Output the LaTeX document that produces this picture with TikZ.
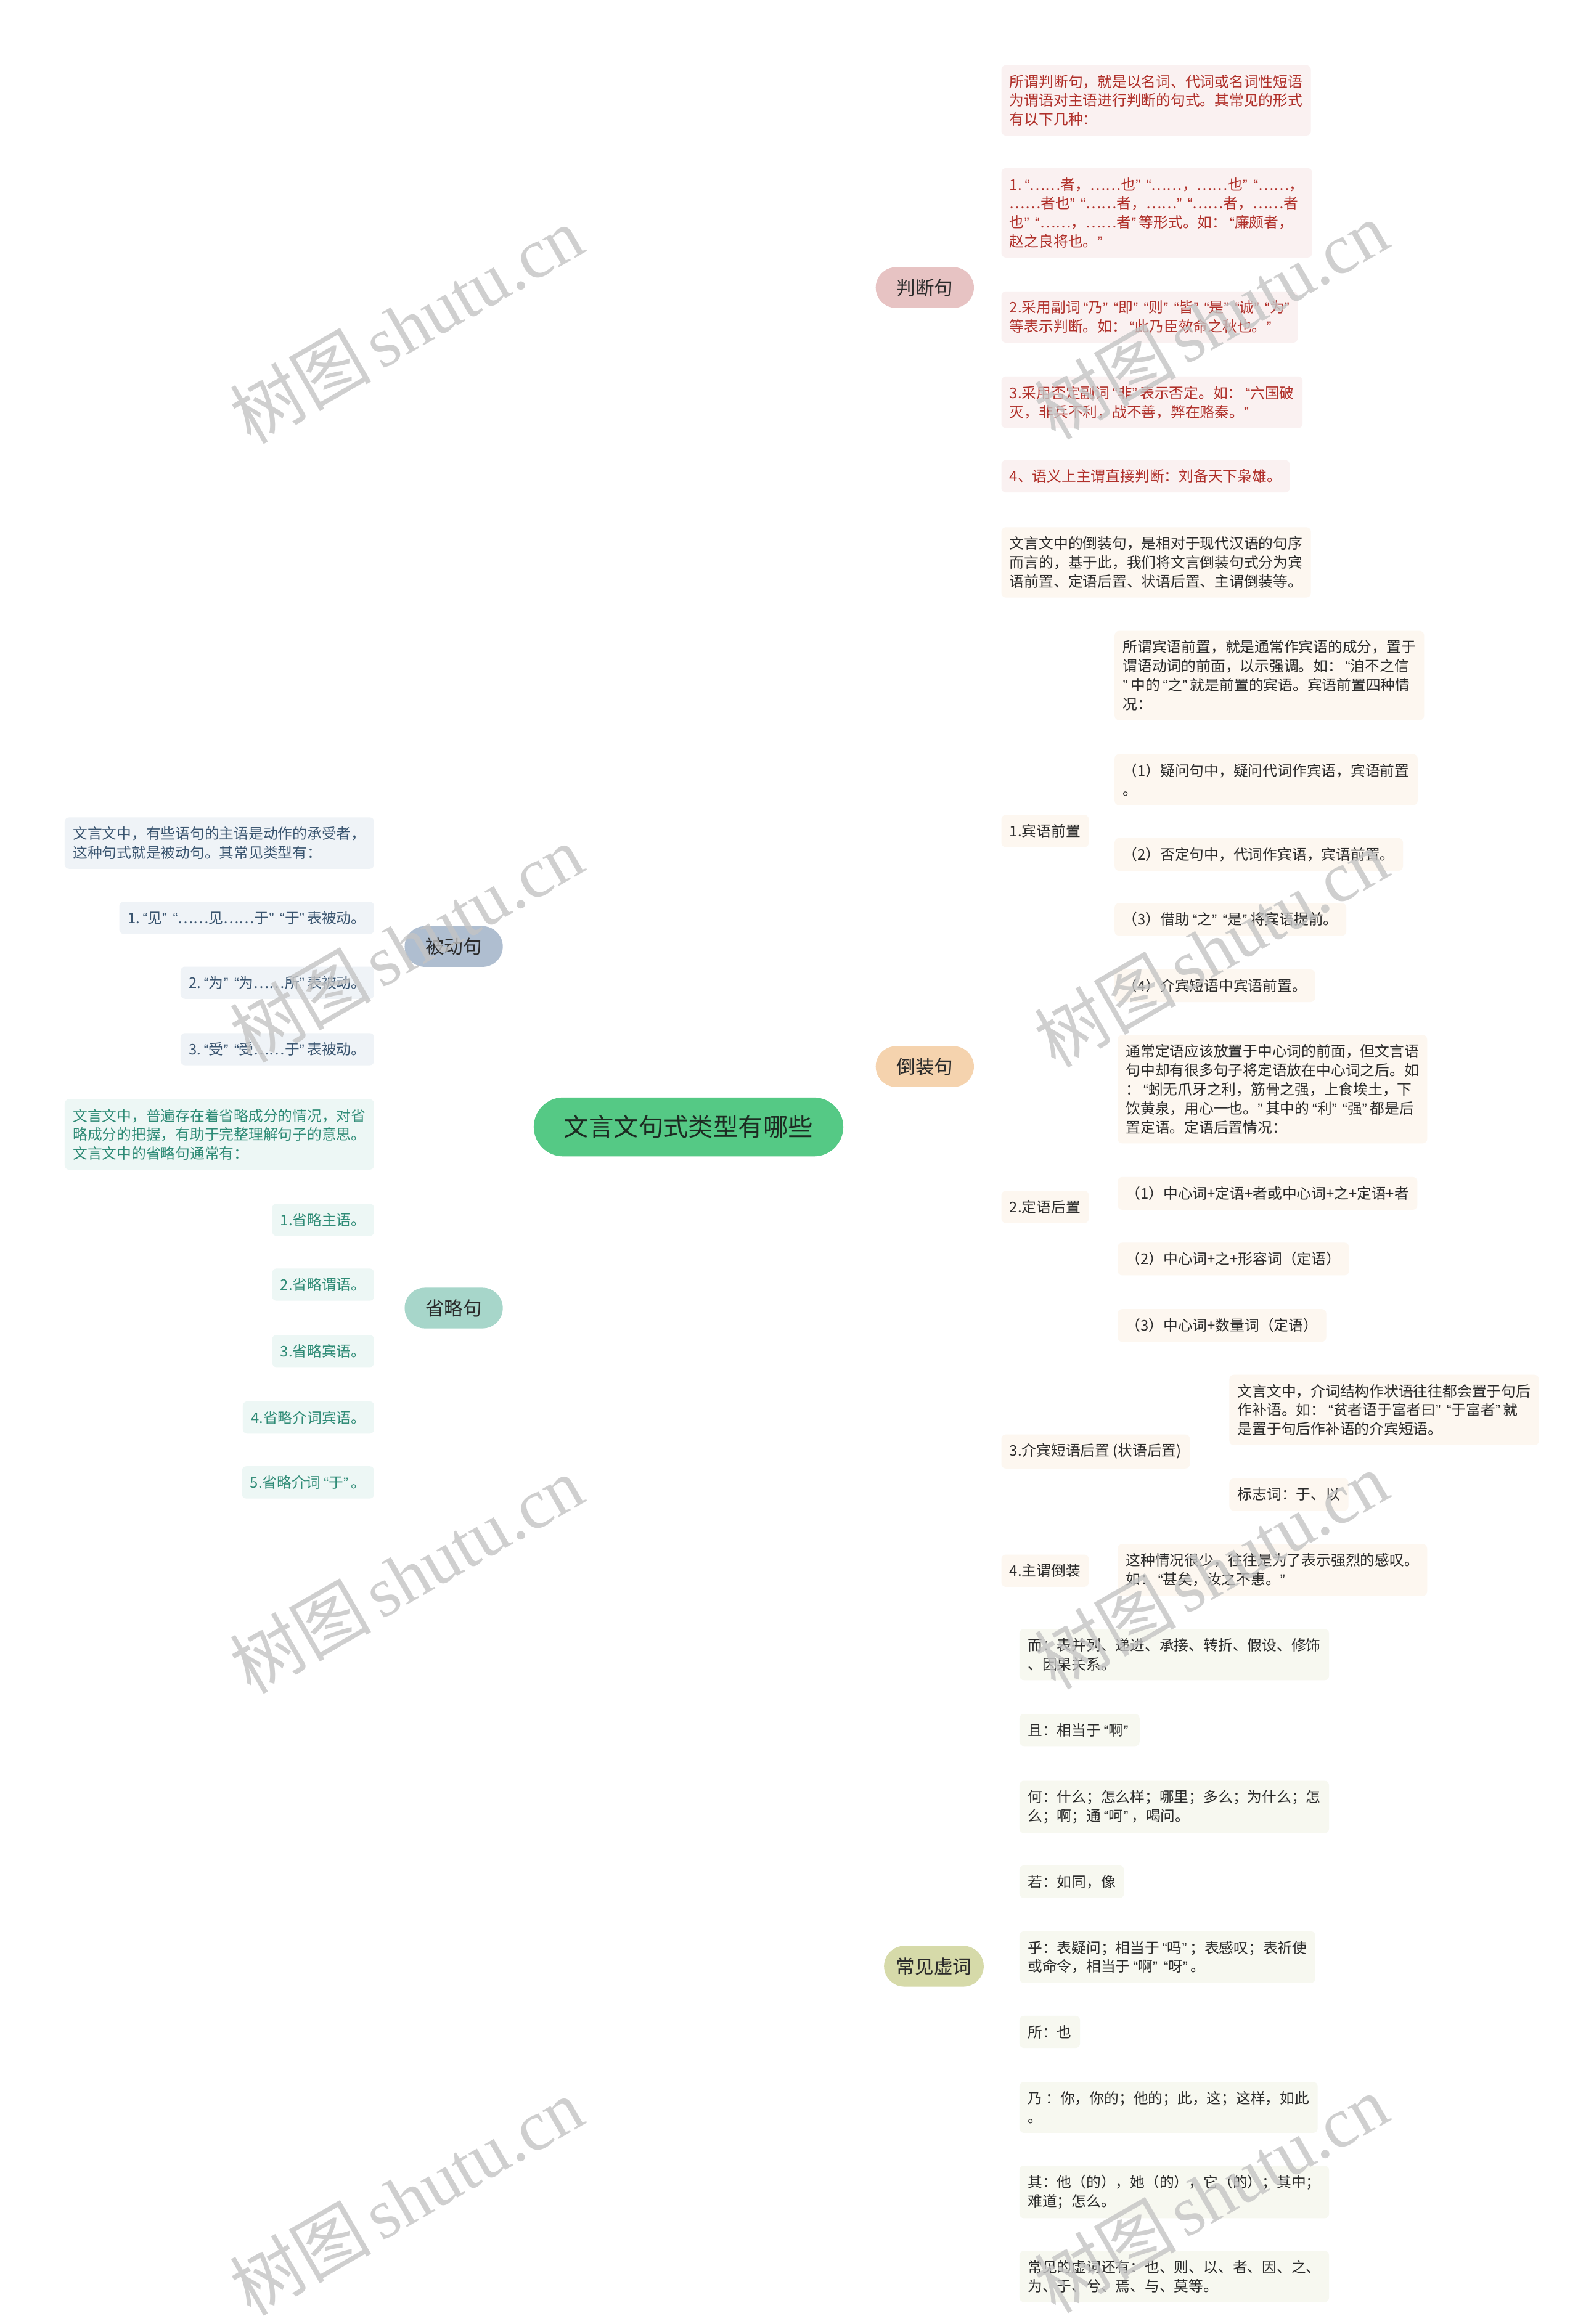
\documentclass[tikz,border=0pt]{standalone}
\usepackage{fontspec}
\usepackage{newunicodechar}
\setmainfont{Noto Sans CJK SC}
\newfontfamily\wmlat{Liberation Serif}
\newfontfamily\wmcjk{Noto Sans CJK SC}
\newfontfamily\qfont{Liberation Sans}
\newunicodechar{“}{{\hspace{0.2em}\qfont\char"201C}}
\newunicodechar{”}{{\qfont\char"201D\hspace{0.2em}}}
\usetikzlibrary{backgrounds}
\definecolor{rootfill}{HTML}{55C985}
\definecolor{roottext}{HTML}{1D2B22}
\definecolor{pjfill}{HTML}{E7C3C3}\definecolor{pjleaf}{HTML}{FAF1F1}\definecolor{pjtext}{HTML}{B0302A}\definecolor{pjline}{HTML}{E3BDBD}
\definecolor{dzfill}{HTML}{F5D3AE}\definecolor{dzleaf}{HTML}{FDF7F0}\definecolor{dzline}{HTML}{F2D2AC}
\definecolor{xcfill}{HTML}{D6DAA9}\definecolor{xcleaf}{HTML}{F7F8F0}\definecolor{xcline}{HTML}{D5DAAB}
\definecolor{bdfill}{HTML}{AFBED0}\definecolor{bdleaf}{HTML}{EFF3F7}\definecolor{bdtext}{HTML}{3A5570}\definecolor{bdline}{HTML}{AAB7C8}
\definecolor{slfill}{HTML}{A7D6CA}\definecolor{slleaf}{HTML}{EDF7F5}\definecolor{sltext}{HTML}{2E8B76}\definecolor{slline}{HTML}{A2D3C6}
\definecolor{darktext}{HTML}{2B2B2B}
\definecolor{wmgray}{HTML}{C4C4C4}
\tikzset{
  leafbox/.style={rounded corners=3pt, inner xsep=5.5pt, inner ysep=6.2pt, align=left,
    font=\fontsize{9.7}{12.6}\selectfont},
  pjbox/.style={leafbox, fill=pjleaf, text=pjtext, anchor=west},
  dzbox/.style={leafbox, fill=dzleaf, text=darktext, anchor=west},
  xcbox/.style={leafbox, fill=xcleaf, text=darktext, anchor=west},
  bdbox/.style={leafbox, fill=bdleaf, text=bdtext, anchor=east},
  slbox/.style={leafbox, fill=slleaf, text=sltext, anchor=east},
  branchnode/.style={rounded corners=13.5pt, minimum height=27pt, minimum width=65pt,
    inner xsep=8pt, inner ysep=0pt, font=\fontsize{12.5}{14}\selectfont, text=darktext},
  rootnode/.style={rounded corners=19.5pt, minimum height=39pt, minimum width=205pt,
    inner sep=0pt, fill=rootfill, text=roottext, font=\fontsize{16.5}{18}\selectfont},
  cr/.style={to path={-- ++(#1,0) coordinate (tmpc) .. controls (tmpc |- \tikztotarget) .. (\tikztotarget)}},
  cr/.default=7,
  cl/.style={to path={-- ++(-#1,0) coordinate (tmpc) .. controls (tmpc |- \tikztotarget) .. (\tikztotarget)}},
  cl/.default=7,
  mainline/.style={line width=1.5pt},
  subline/.style={line width=1pt},
  wmark/.style={rotate=30, text=wmgray, text opacity=0.8, inner sep=0pt}
}
\begin{document}
\begin{tikzpicture}[x=1pt,y=-1pt]
\useasboundingbox[fill=white] (0,0) rectangle (1045.1,1539.5);

% root and branches
\node[rootnode] (root) at (456,746.5) {文言文句式类型有哪些};
\node[branchnode, fill=pjfill] (pj) at (612.5,190.5) {判断句};
\node[branchnode, fill=dzfill] (dz) at (612.5,706.5) {倒装句};
\node[branchnode, fill=xcfill] (xc) at (618.5,1302.5) {常见虚词};
\node[branchnode, fill=bdfill] (bd) at (300.5,627) {被动句};
\node[branchnode, fill=slfill] (sl) at (300.5,866.5) {省略句};

% 判断句 leaves
\node[pjbox] (J0) at (663,66.5) {所谓判断句，就是以名词、代词或名词性短语\\为谓语对主语进行判断的句式。其常见的形式\\有以下几种：};
\node[pjbox] (J1) at (663,141) {1.“……者，……也”“……，……也”“……，\\……者也”“……者，……”“……者，……者\\也”“……，……者”等形式。如：“廉颇者，\\赵之良将也。”};
\node[pjbox] (J2) at (663,210) {2.采用副词“乃”“即”“则”“皆”“是”“诚”“为”\\等表示判断。如：“此乃臣效命之秋也。”};
\node[pjbox] (J3) at (663,266.5) {3.采用否定副词“非”表示否定。如：“六国破\\灭，非兵不利，战不善，弊在赂秦。”};
\node[pjbox] (J4) at (663,315.5) {4、语义上主谓直接判断：刘备天下枭雄。};

% 倒装句 leaves
\node[dzbox] (D0) at (663,372.5) {文言文中的倒装句，是相对于现代汉语的句序\\而言的，基于此，我们将文言倒装句式分为宾\\语前置、定语后置、状语后置、主谓倒装等。};
\node[dzbox] (D1) at (663,550.5) {1.宾语前置};
\node[dzbox] (D2) at (663,799.5) {2.定语后置};
\node[dzbox] (D3) at (663,961.5) {3.介宾短语后置 (状语后置)};
\node[dzbox] (D4) at (663,1040.5) {4.主谓倒装};
\node[dzbox] (D1a) at (738,447.5) {所谓宾语前置，就是通常作宾语的成分，置于\\谓语动词的前面，以示强调。如：“洎不之信\\”中的“之”就是前置的宾语。宾语前置四种情\\况：};
\node[dzbox] (D1b) at (738,516.5) {（1）疑问句中，疑问代词作宾语，宾语前置\\。};
\node[dzbox] (D1c) at (738,566) {（2）否定句中，代词作宾语，宾语前置。};
\node[dzbox] (D1d) at (738,609) {（3）借助“之”“是”将宾语提前。};
\node[dzbox] (D1e) at (738,653) {（4）介宾短语中宾语前置。};
\node[dzbox] (D2a) at (740,721.5) {通常定语应该放置于中心词的前面，但文言语\\句中却有很多句子将定语放在中心词之后。如\\：“蚓无爪牙之利，筋骨之强，上食埃土，下\\饮黄泉，用心一也。”其中的“利”“强”都是后\\置定语。定语后置情况：};
\node[dzbox] (D2b) at (740,790.5) {（1）中心词+定语+者或中心词+之+定语+者};
\node[dzbox] (D2c) at (740,834) {（2）中心词+之+形容词（定语）};
\node[dzbox] (D2d) at (740,878) {（3）中心词+数量词（定语）};
\node[dzbox] (D3a) at (814,934) {文言文中，介词结构作状语往往都会置于句后\\作补语。如：“贫者语于富者曰”“于富者”就\\是置于句后作补语的介宾短语。};
\node[dzbox] (D3b) at (814,990) {标志词：于、以};
\node[dzbox] (D4a) at (740,1040) {这种情况很少，往往是为了表示强烈的感叹。\\如：“甚矣，汝之不惠。”};

% 常见虚词 leaves
\node[xcbox] (X0) at (675,1096) {而：表并列、递进、承接、转折、假设、修饰\\、因果关系。};
\node[xcbox] (X1) at (675,1146) {且：相当于“啊”};
\node[xcbox] (X2) at (675,1197) {何：什么；怎么样；哪里；多么；为什么；怎\\么；啊；通“呵”，喝问。};
\node[xcbox] (X3) at (675,1246.5) {若：如同，像};
\node[xcbox] (X4) at (675,1296.5) {乎：表疑问；相当于“吗”；表感叹；表祈使\\或命令，相当于“啊”“呀”。};
\node[xcbox] (X5) at (675,1346) {所：也};
\node[xcbox] (X6) at (675,1396) {乃 ：你，你的；他的；此，这；这样，如此\\。};
\node[xcbox] (X7) at (675,1452) {其：他（的），她（的），它（的）；其中；\\难道；怎么。};
\node[xcbox] (X8) at (675,1508) {常见的虚词还有：也、则、以、者、因、之、\\为、于、兮、焉、与、莫等。};

% 被动句 leaves
\node[bdbox] (B0) at (248,558.5) {文言文中，有些语句的主语是动作的承受者，\\这种句式就是被动句。其常见类型有：};
\node[bdbox] (B1) at (248,608) {1.“见”“……见……于”“于”表被动。};
\node[bdbox] (B2) at (248,651) {2.“为”“为……所”表被动。};
\node[bdbox] (B3) at (248,695) {3.“受”“受……于”表被动。};

% 省略句 leaves
\node[slbox] (S0) at (248,751.5) {文言文中，普遍存在着省略成分的情况，对省\\略成分的把握，有助于完整理解句子的意思。\\文言文中的省略句通常有：};
\node[slbox] (S1) at (248,808) {1.省略主语。};
\node[slbox] (S2) at (248,851) {2.省略谓语。};
\node[slbox] (S3) at (248,895) {3.省略宾语。};
\node[slbox] (S4) at (248,939) {4.省略介词宾语。};
\node[slbox] (S5) at (248,982) {5.省略介词“于”。};

\begin{scope}[on background layer]
  % main connectors
  \draw[mainline, pjline] (root.center) .. controls (458,380) and (470,190.5) .. (pj.west);
  \draw[mainline, dzline] ([xshift=9pt]root.north) .. controls (485,710) and (510,706.5) .. (dz.west);
  \draw[mainline, xcline] (root.center) .. controls (458,1230) and (480,1302.5) .. (xc.west);
  \draw[mainline, bdline] (root.center) .. controls (456,670) and (420,627) .. (bd.east);
  \draw[mainline, slline] (root.center) .. controls (456,830) and (400,866.5) .. (sl.east);
  % 判断句
  \foreach \n in {J0,J1,J2,J3,J4} \draw[subline, pjline] (pj.east) to[cr] (\n.west);
  % 倒装句
  \foreach \n in {D0,D1,D2,D3,D4} \draw[subline, dzline] (dz.east) to[cr] (\n.west);
  \foreach \n in {D1a,D1b,D1c,D1d,D1e} \draw[subline, dzline] (D1.east) to[cr=8] (\n.west);
  \foreach \n in {D2a,D2b,D2c,D2d} \draw[subline, dzline] (D2.east) to[cr=10] (\n.west);
  \foreach \n in {D3a,D3b} \draw[subline, dzline] (D3.east) to[cr=12] (\n.west);
  \draw[subline, dzline] (D4.east) -- (D4a.west);
  % 常见虚词
  \foreach \n in {X0,X1,X2,X3,X4,X5,X6,X7,X8} \draw[subline, xcline] (xc.east) to[cr=6] (\n.west);
  % 被动句
  \foreach \n in {B0,B1,B2,B3} \draw[subline, bdline] (bd.west) to[cl] (\n.east);
  % 省略句
  \foreach \n in {S0,S1,S2,S3,S4,S5} \draw[subline, slline] (sl.west) to[cl] (\n.east);
\end{scope}

% watermarks
\foreach \wx/\wy [count=\i] in {269/215, 802/212, 269/625, 802/628, 269/1043, 802/1040, 269/1455, 802/1453}
  \node[wmark] (wm\i) at (\wx,\wy) {\fontsize{47}{50}\selectfont\wmcjk 树图\hspace{6pt}\wmlat shutu.cn};
\end{tikzpicture}
\end{document}
